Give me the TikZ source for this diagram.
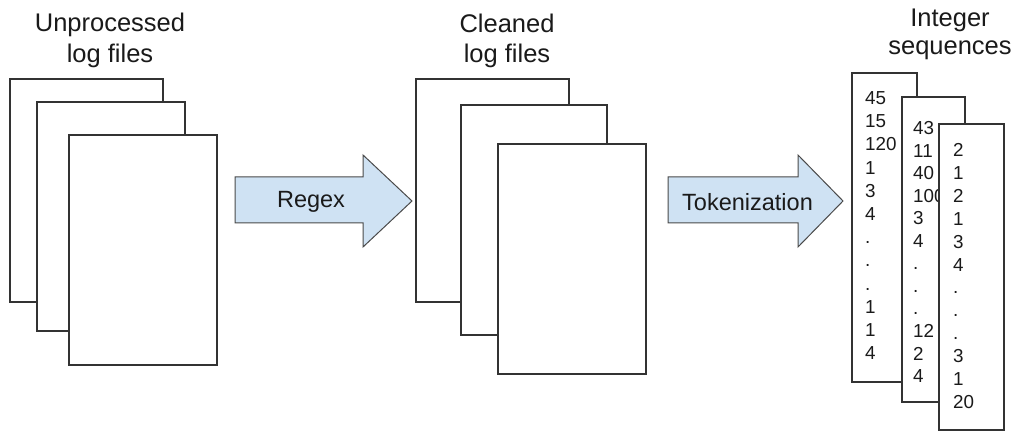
\documentclass[tikz,border=0pt]{standalone}
\usepackage{fontspec}
\setmainfont{Liberation Sans}
\definecolor{arrowfill}{HTML}{CFE2F3}
\definecolor{arrowline}{HTML}{4A4A4A}
\definecolor{boxline}{HTML}{333333}
\definecolor{txt}{HTML}{1A1A1A}
\begin{document}
\begin{tikzpicture}[x=1pt,y=-1pt,
  page/.style={draw=boxline,line width=1.5pt,fill=white},
  bigarrow/.style={draw=arrowline,line width=1pt,fill=arrowfill,line join=miter},
  title/.style={font=\fontsize{25.5}{30}\selectfont,text=txt,inner sep=0pt,anchor=base},
  lbl/.style={font=\fontsize{23.5}{28}\selectfont,text=txt,inner sep=0pt},
  num/.style={font=\fontsize{18.8}{22}\selectfont,text=txt,inner sep=0pt,anchor=base west}]
\useasboundingbox (0,0) rectangle (1019,435);
\fill[white] (0,0) rectangle (1019,435);

% titles
\node[title] (t1a) at (110,32) {Unprocessed};
\node[title] (t1b) at (110,63) {log files};
\node[title] (t2a) at (507,33) {Cleaned};
\node[title] (t2b) at (507,63) {log files};
\node[title] (t3a) at (950,27) {Integer};
\node[title] (t3b) at (950,55) {sequences};

% left stack
\draw[page] (10,79) rectangle (163,302);
\draw[page] (37,102) rectangle (185,331);
\draw[page] (69,135) rectangle (217,365);

% middle stack
\draw[page] (416,79) rectangle (569,302);
\draw[page] (461,105) rectangle (607,335);
\draw[page] (498,144) rectangle (646,374);

% arrows
\draw[bigarrow] (235,177) -- (363,177) -- (363,155) -- (412,201) -- (363,247) -- (363,223) -- (235,223) -- cycle;
\node[lbl] (regex) at (311,202) {Regex};
\draw[bigarrow] (668,177) -- (798,177) -- (798,155) -- (843,201) -- (798,247) -- (798,223) -- (668,223) -- cycle;
\node[lbl] (tok) at (747.5,202) {Tokenization};

% right stack
\draw[page] (852,73) rectangle (917,382);
\foreach \t [count=\i] in {45,15,120,1,3,4,.,.,.,1,1,4}
  \node[num] (a\i) at (865,{104.6+(\i-1)*23.2}) {\t};
\draw[page] (902,97) rectangle (965,402);
\foreach \t [count=\i] in {43,11,40,100,3,4,.,.,.,12,2,4}
  \node[num] (b\i) at (913,{134.6+(\i-1)*22.55}) {\t};
\draw[page] (939,124) rectangle (1004,430);
\foreach \t [count=\i] in {2,1,2,1,3,4,.,.,.,3,1,20}
  \node[num] (c\i) at (953,{156.6+(\i-1)*22.9}) {\t};
\end{tikzpicture}
\end{document}
